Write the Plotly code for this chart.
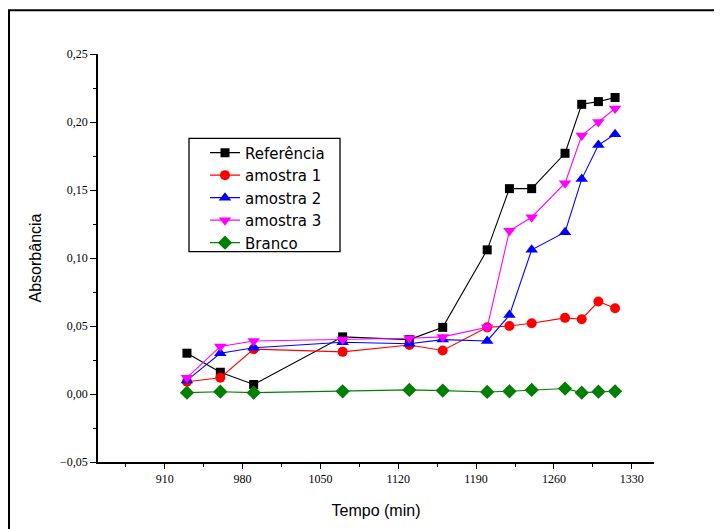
import plotly.graph_objects as go

tempo = [930, 960, 990, 1070, 1130, 1160, 1200, 1220, 1240, 1270, 1285, 1300, 1315]
referencia = [0.030, 0.016, 0.007, 0.042, 0.040, 0.049, 0.106, 0.151, 0.151, 0.177, 0.213, 0.215, 0.218]
amostra1 = [0.009, 0.012, 0.033, 0.031, 0.036, 0.032, 0.049, 0.050, 0.052, 0.056, 0.055, 0.068, 0.063]
amostra2 = [0.010, 0.030, 0.034, 0.038, 0.037, 0.040, 0.039, 0.058, 0.106, 0.119, 0.158, 0.183, 0.191]
amostra3 = [0.012, 0.035, 0.039, 0.040, 0.041, 0.042, 0.049, 0.120, 0.130, 0.155, 0.190, 0.200, 0.210]
branco = [0.001, 0.0017, 0.001, 0.002, 0.003, 0.0025, 0.0015, 0.002, 0.003, 0.004, 0.001, 0.0017, 0.002]

series = [
    ("Referência", referencia, "black", "square", 9),
    ("amostra 1", amostra1, "red", "circle", 10),
    ("amostra 2", amostra2, "blue", "triangle-up", 11),
    ("amostra 3", amostra3, "magenta", "triangle-down", 11),
    ("Branco", branco, "green", "diamond", 11),
]

fig = go.Figure()
for name, ys, color, sym, sz in series:
    fig.add_trace(go.Scatter(
        x=tempo, y=ys, name=name, mode="lines+markers",
        line=dict(color=color, width=1.1),
        marker=dict(color=color, symbol=sym, size=sz, line=dict(width=0)),
    ))

W, H = 714, 521
L, T = 90, 46
R, B = 646, 457
PW, PH = R - L, B - T


def px(x):
    return (x - L) / PW


def py(y):
    return (B - y) / PH


fig.update_layout(
    width=W, height=H,
    margin=dict(l=L, r=W - R, t=T, b=H - B),
    paper_bgcolor="white", plot_bgcolor="white",
    separators=",.",
    showlegend=True,
    legend=dict(
        x=px(197), y=py(129), xanchor="left", yanchor="top",
        borderwidth=0, bgcolor="rgba(0,0,0,0)",
        font=dict(family="DejaVu Sans", size=15, color="black"),
        tracegroupgap=0, itemsizing="trace",
    ),
    xaxis=dict(
        range=[850, 1350], tick0=910, dtick=70, showgrid=False, zeroline=False,
        showline=True, linecolor="black", linewidth=1.5,
        ticks="outside", ticklen=5, tickwidth=1.2, tickcolor="black",
        minor=dict(dtick=35, tick0=875, ticks="outside", ticklen=3, tickwidth=1, tickcolor="black"),
        tickfont=dict(family="Liberation Serif, Times New Roman", size=12, color="black"),
        title=dict(text="Tempo (min)", font=dict(family="Liberation Sans, Arial", size=16, color="black"), standoff=20),
    ),
    yaxis=dict(
        range=[-0.05, 0.25], dtick=0.05, tickformat=".2f", showgrid=False, zeroline=False,
        showline=True, linecolor="black", linewidth=1.5,
        ticks="outside", ticklen=6, tickwidth=1.2, tickcolor="black",
        minor=dict(dtick=0.025, ticks="outside", ticklen=3, tickwidth=1, tickcolor="black"),
        tickfont=dict(family="Liberation Serif, Times New Roman", size=12, color="black"),
        title=dict(text="Absorbância", font=dict(family="Liberation Sans, Arial", size=16, color="black"), standoff=14),
    ),
    shapes=[
        dict(type="rect", xref="paper", yref="paper",
             x0=px(1), x1=1.3, y0=-0.5, y1=py(2),
             line=dict(color="black", width=2), fillcolor="rgba(0,0,0,0)", layer="below"),
        dict(type="rect", xref="paper", yref="paper",
             x0=px(181), x1=px(332), y0=py(245), y1=py(131),
             line=dict(color="black", width=1.3), fillcolor="white", layer="above"),
    ],
)

fig.write_html("out.html")
